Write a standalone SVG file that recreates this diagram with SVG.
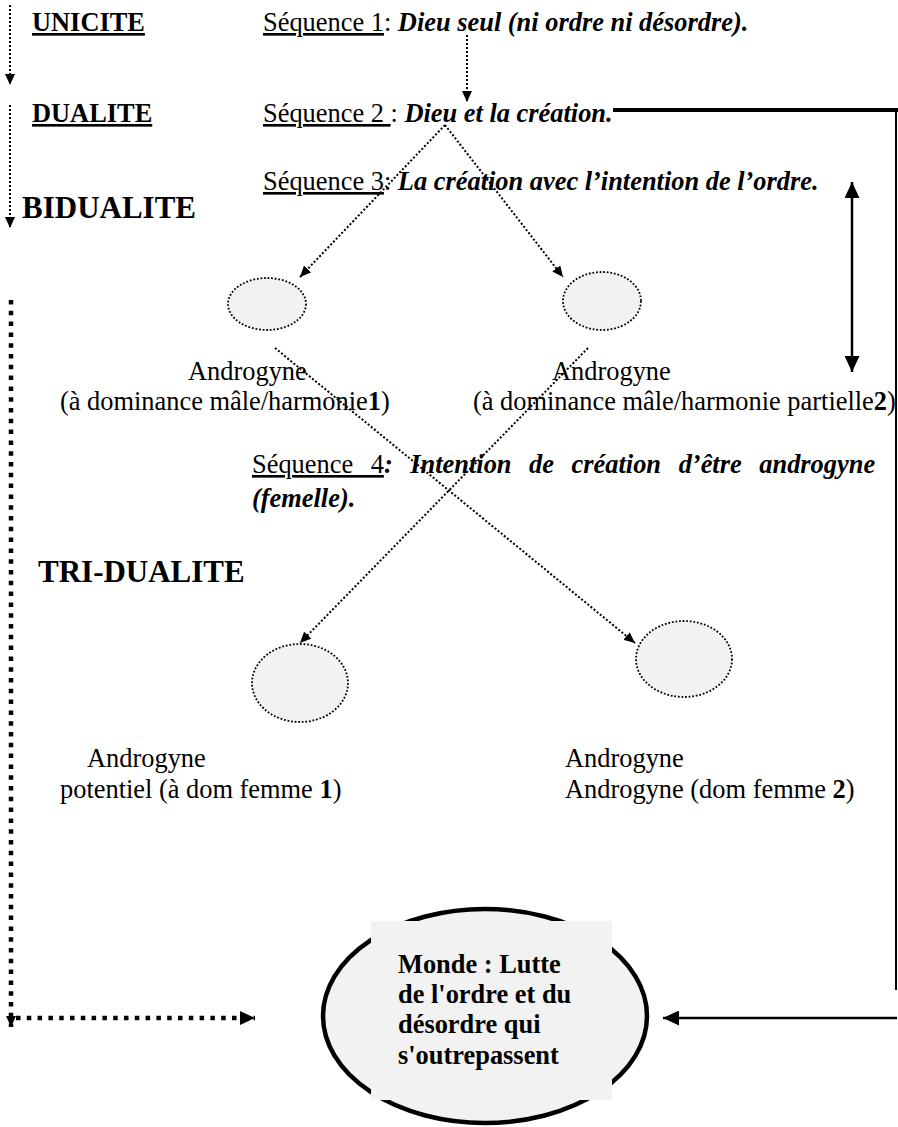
<svg xmlns="http://www.w3.org/2000/svg" width="898" height="1127" viewBox="0 0 898 1127">
<style>
text { font-family: "Liberation Serif", "Times New Roman", serif; font-size: 26.4px; fill: #000; }
.b { font-weight: bold; }
.bi { font-weight: bold; font-style: italic; }
.u { text-decoration: underline; }
.big { font-size: 31px; font-weight: bold; }
.fine { fill: none; stroke: #000; stroke-width: 2; stroke-dasharray: 2 2; }
.thick { fill: none; stroke: #000; stroke-width: 4.5; stroke-dasharray: 4.5 6.3; }
.solid { fill: none; stroke: #000; stroke-width: 2.5; }
.node { fill: #f2f2f2; stroke: #000; stroke-width: 1.8; stroke-dasharray: 1.8 1.8; }
</style>
<defs>
<marker id="af" markerUnits="userSpaceOnUse" markerWidth="12" markerHeight="10" refX="11" refY="5" orient="auto"><path d="M0,0 L11,5 L0,10 Z" fill="#000"/></marker>
<marker id="at" markerUnits="userSpaceOnUse" markerWidth="16" markerHeight="14" refX="15" refY="7" orient="auto"><path d="M0,0 L15,7 L0,14 Z" fill="#000"/></marker>
<marker id="as" markerUnits="userSpaceOnUse" markerWidth="17" markerHeight="15" refX="16" refY="7.5" orient="auto"><path d="M0,0 L16,7.5 L0,15 Z" fill="#000"/></marker>
<marker id="as0" markerUnits="userSpaceOnUse" markerWidth="17" markerHeight="15" refX="16" refY="7.5" orient="auto-start-reverse"><path d="M0,0 L16,7.5 L0,15 Z" fill="#000"/></marker>
</defs>

<g id="labels">
<text x="32" y="31" class="b u">UNICITE</text>
<text x="263" y="31"><tspan class="u">Séquence 1</tspan>:<tspan class="bi"> Dieu seul (ni ordre ni désordre).</tspan></text>
<text x="32" y="122" class="b u">DUALITE</text>
<text x="263" y="122" xml:space="preserve"><tspan class="u">Séquence 2 </tspan>:<tspan class="bi"> Dieu et la création.</tspan></text>
<text x="263" y="190"><tspan class="u">Séquence 3</tspan>:<tspan class="bi"> La création avec l’intention de l’ordre.</tspan></text>
<text x="22" y="218" class="big">BIDUALITE</text>
<text x="252" y="473" word-spacing="11"><tspan class="u">Séquence 4</tspan><tspan class="bi">: Intention de création d’être androgyne</tspan></text>
<text x="252" y="507" class="bi">(femelle).</text>
<text x="38" y="582" class="big">TRI-DUALITE</text>
</g>

<g id="connectors">
<line class="fine" x1="10" y1="5" x2="10" y2="85" marker-end="url(#af)"/>
<line class="fine" x1="10" y1="105" x2="10" y2="228" marker-end="url(#af)"/>
<line class="fine" x1="467" y1="35" x2="467" y2="102" marker-end="url(#af)"/>
<line class="fine" x1="445" y1="125" x2="300" y2="277" marker-end="url(#af)"/>
<line class="fine" x1="445" y1="125" x2="563" y2="277" marker-end="url(#af)"/>
<line class="fine" x1="275" y1="348" x2="635" y2="643" marker-end="url(#af)"/>
<line class="fine" x1="588" y1="348" x2="300" y2="643" marker-end="url(#af)"/>
<line class="thick" x1="11" y1="300" x2="11" y2="1027" marker-end="url(#af)"/>
<line class="thick" x1="16" y1="1018" x2="255" y2="1018" marker-end="url(#at)"/>
<line x1="613" y1="110" x2="898" y2="110" stroke="#000" stroke-width="4"/>
<line x1="896" y1="108" x2="896" y2="990" stroke="#000" stroke-width="2"/>
<line class="solid" x1="852" y1="182" x2="852" y2="372" marker-start="url(#as0)" marker-end="url(#as)"/>
<line class="solid" x1="897" y1="1018" x2="663" y2="1018" marker-end="url(#as)"/>
</g>

<g id="node-androgyne-1">
<ellipse class="node" cx="267" cy="304" rx="39" ry="26"/>
<text x="188" y="380">Androgyne</text>
<text x="60" y="410">(à dominance mâle/harmonie<tspan class="b">1</tspan>)</text>
</g>
<g id="node-androgyne-2">
<ellipse class="node" cx="602" cy="301" rx="39" ry="29"/>
<text x="552" y="380">Androgyne</text>
<text x="473" y="410">(à dominance mâle/harmonie partielle<tspan class="b">2</tspan>)</text>
</g>
<g id="node-androgyne-f1">
<ellipse class="node" cx="300" cy="683" rx="48" ry="39"/>
<text x="87" y="767">Androgyne</text>
<text x="60" y="798">potentiel (à dom femme <tspan class="b">1</tspan>)</text>
</g>
<g id="node-androgyne-f2">
<ellipse class="node" cx="684" cy="659" rx="48" ry="38"/>
<text x="565" y="767">Androgyne</text>
<text x="565" y="798">Androgyne (dom femme <tspan class="b">2</tspan>)</text>
</g>
<g id="node-monde">
<ellipse cx="485" cy="1016" rx="162" ry="107" fill="#f2f2f2" stroke="#000" stroke-width="4.5"/>
<rect x="371" y="921" width="241" height="179" fill="#f2f2f2"/>
<text x="398" y="973" class="b">Monde : Lutte</text>
<text x="398" y="1003" class="b">de l'ordre et du</text>
<text x="398" y="1033" class="b">désordre qui</text>
<text x="398" y="1064" class="b">s'outrepassent</text>
</g>
</svg>
